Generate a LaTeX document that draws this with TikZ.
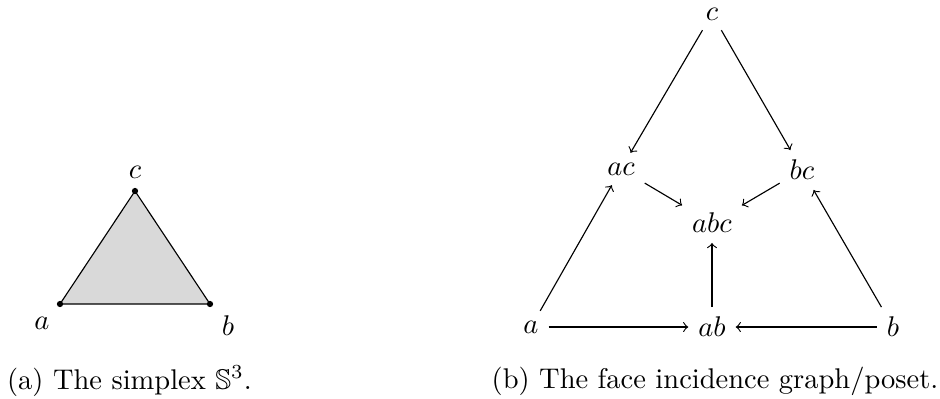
\documentclass[tikz,border=0pt]{standalone}
\usepackage{amssymb}
\begin{document}
\begin{tikzpicture}[x=0.351pt,y=-0.351pt,
  vdot/.style={circle,fill=black,inner sep=0pt,minimum size=2.2pt},
  lbl/.style={inner sep=0pt},
  pnode/.style={inner sep=3.33pt},
  edge/.style={->,line width=0.4pt}]
\useasboundingbox (0,0) rectangle (940,398);
% (a) simplex
\coordinate (A) at (60,304);
\coordinate (B) at (210,304);
\coordinate (C) at (135,191);
\fill[gray!30] (A) -- (B) -- (C) -- cycle;
\draw[line width=0.4pt] (A) -- (B) -- (C) -- cycle;
\node[vdot] (dA) at (A) {};
\node[vdot] (dB) at (B) {};
\node[vdot] (dC) at (C) {};
\node[lbl] (la) at (42,323) {$a$};
\node[lbl] (lb) at (228,326) {$b$};
\node[lbl] (lc) at (135,172) {$c$};
\node[lbl] (capa) at (129.5,381) {(a) The simplex $\mathbb{S}^3$.};
% (b) poset
\node[pnode] (c) at (712,14) {$c$};
\node[pnode] (ac) at (621,169) {$ac$};
\node[pnode] (bc) at (802,170) {$bc$};
\node[pnode] (abc) at (712,223) {$abc$};
\node[pnode] (a) at (531,327) {$a$};
\node[pnode] (ab) at (712,327) {$ab$};
\node[pnode] (b) at (893,327) {$b$};
\draw[edge] (c) -- (ac);
\draw[edge] (c) -- (bc);
\draw[edge] (ac) -- (abc);
\draw[edge] (bc) -- (abc);
\draw[edge] (a) -- (ac);
\draw[edge] (b) -- (bc);
\draw[edge] (ab) -- (abc);
\draw[edge] (a) -- (ab);
\draw[edge] (b) -- (ab);
\node[lbl] (capb) at (715,381) {(b) The face incidence graph/poset.};
\end{tikzpicture}
\end{document}
